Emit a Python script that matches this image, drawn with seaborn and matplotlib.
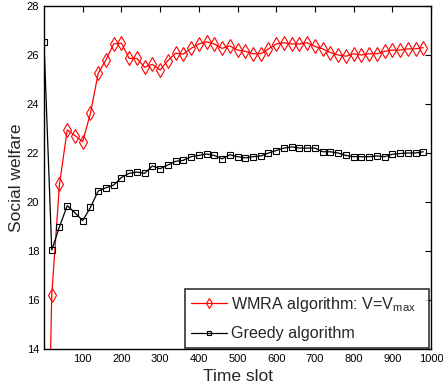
import numpy as np
import pandas as pd
import matplotlib.pyplot as plt
import seaborn as sns

sns.set_style('white')
plt.rcParams['font.family'] = ['Liberation Sans', 'DejaVu Sans']
plt.rcParams['mathtext.fontset'] = 'custom'
plt.rcParams['mathtext.rm'] = 'Liberation Sans'
plt.rcParams['mathtext.it'] = 'Liberation Sans'

# Data
time_slot = list(range(0, 1000, 20))
wmra = [0.0, 16.2, 20.72, 22.94, 22.71, 22.46, 23.62, 25.25, 25.8, 26.45,
        26.48, 25.86, 25.86, 25.5, 25.62, 25.39, 25.77, 26.07, 26.04, 26.27,
        26.45, 26.54, 26.45, 26.27, 26.37, 26.2, 26.15, 26.05, 26.05, 26.25,
        26.45, 26.5, 26.45, 26.45, 26.5, 26.35, 26.25, 26.1, 26.0, 25.95,
        26.05, 26.0, 26.05, 26.05, 26.15, 26.2, 26.2, 26.25, 26.25, 26.3]
greedy = [26.52, 18.04, 18.99, 19.85, 19.56, 19.24, 19.78, 20.45, 20.58, 20.69,
          21.0, 21.17, 21.22, 21.17, 21.47, 21.36, 21.51, 21.66, 21.7, 21.85,
          21.9, 21.96, 21.9, 21.76, 21.93, 21.85, 21.8, 21.85, 21.88, 22.0,
          22.1, 22.2, 22.25, 22.2, 22.2, 22.2, 22.05, 22.05, 22.0, 21.9,
          21.85, 21.85, 21.85, 21.88, 21.85, 21.95, 21.98, 22.0, 22.0, 22.05]

df = pd.DataFrame({'t': time_slot, 'wmra': wmra, 'greedy': greedy})

fig = plt.figure(figsize=(4.43, 3.89), dpi=100)
ax = fig.add_axes([0.0993, 0.1028, 0.8737, 0.8818])

sns.lineplot(data=df, x='t', y='wmra', ax=ax, color='red', lw=0.9,
             marker='d', markersize=6.8, markerfacecolor='none',
             markeredgecolor='red', markeredgewidth=0.8,
             label='WMRA algorithm: V=V$_{\\mathrm{max}}$')
sns.lineplot(data=df, x='t', y='greedy', ax=ax, color='black', lw=0.9,
             marker='s', markersize=4.5, markerfacecolor='none',
             markeredgecolor='black', markeredgewidth=0.8,
             label='Greedy algorithm')

ax.set_xlim(0, 1000)
ax.set_ylim(14, 28)
ax.set_xticks(range(100, 1001, 100))
ax.set_yticks(range(14, 29, 2))
ax.tick_params(direction='in', length=4, width=0.8, top=True, right=True,
               labelsize=8, colors='black')
for s in ax.spines.values():
    s.set_color('black')
    s.set_linewidth(1.0)

ax.set_xlabel('Time slot', fontsize=12.5, labelpad=4)
ax.set_ylabel('Social welfare', fontsize=12.5, labelpad=2)

leg = ax.legend(loc='lower left', bbox_to_anchor=(0.364, 0.004, 0.631, 0.17),
                mode='expand', borderaxespad=0.0, markerscale=0.7,
                fontsize=11.6, frameon=True, fancybox=False, edgecolor='black',
                handlelength=2.2, handletextpad=0.25, labelspacing=0.75,
                borderpad=0.4)
leg.get_frame().set_linewidth(1.2)

fig.savefig('out.png', dpi=100)
